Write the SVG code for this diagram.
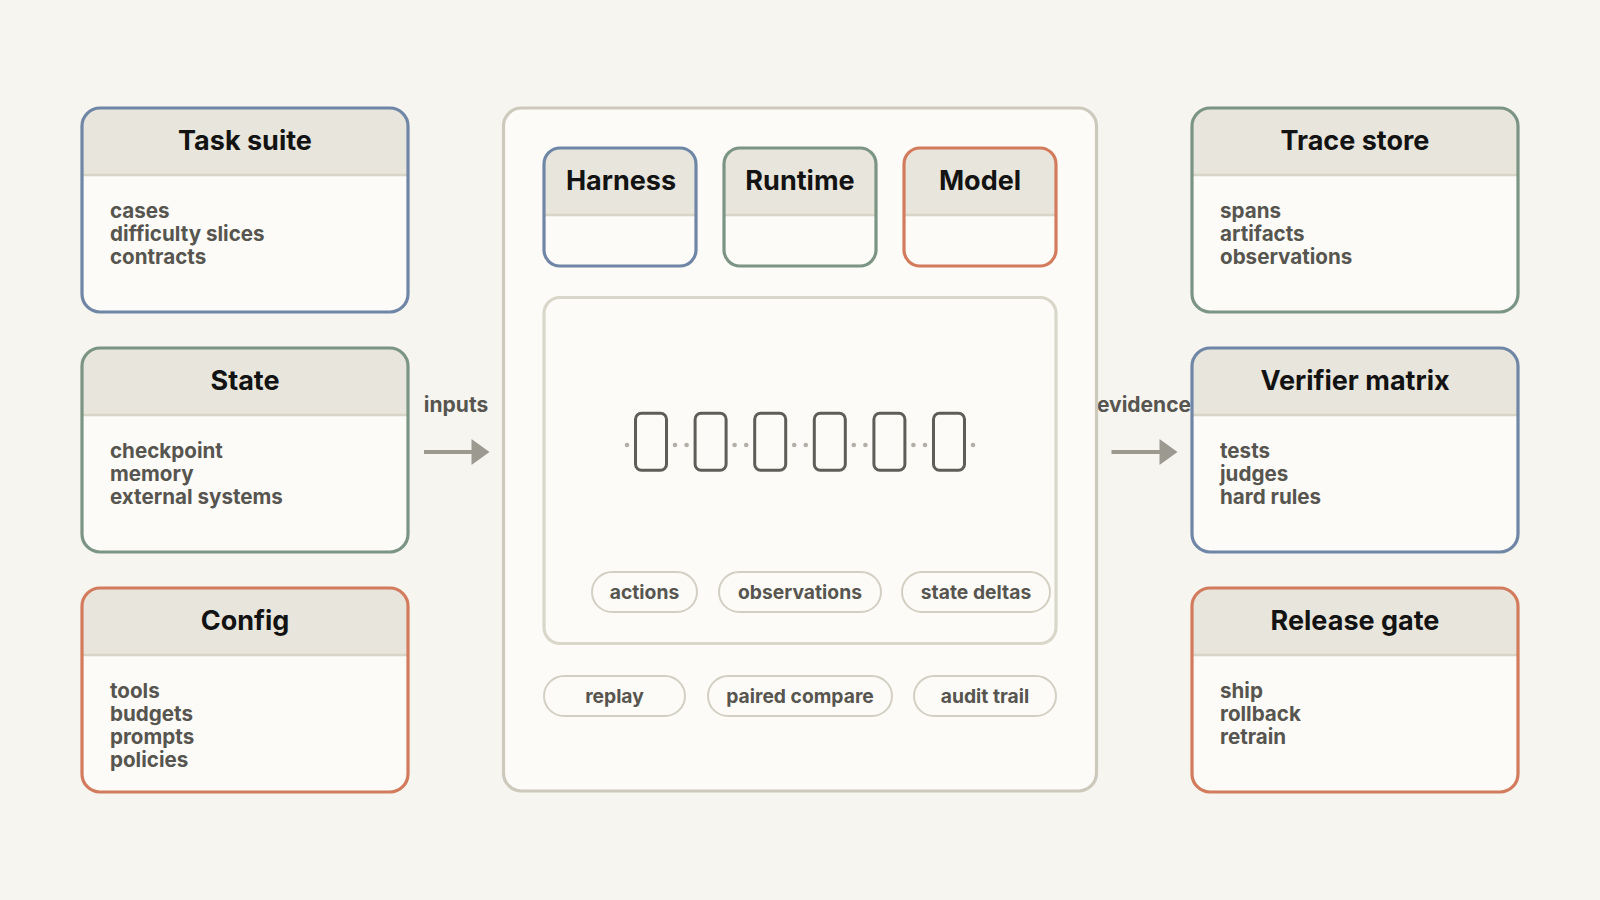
<svg xmlns="http://www.w3.org/2000/svg" width="1600" height="900" viewBox="0 0 1600 900">
<style>
.bg{fill:#f6f5f0}
.fillbox{fill:#fcfbf7}
.hdr{fill:#e8e6dc}
.sep{stroke:#d8d4c6;stroke-width:2.5}
.outline{fill:none;stroke-width:3.2}
.blue{stroke:#6f86a6}
.green{stroke:#7b9484}
.orange{stroke:#d27b5d}
.title{font-family:Inter,"Liberation Sans",sans-serif;font-weight:700;font-size:27px;fill:#131313;text-anchor:middle}
.body{font-family:Inter,"Liberation Sans",sans-serif;font-weight:700;font-size:20.6px;fill:#57554f}
.pill{fill:#fcfbf7;stroke:#d3cfc3;stroke-width:2}
.pilltxt{font-family:Inter,"Liberation Sans",sans-serif;font-weight:700;font-size:19.3px;fill:#57554f;text-anchor:middle}
.lbl{font-family:Inter,"Liberation Sans",sans-serif;font-weight:700;font-size:21px;fill:#57554f;text-anchor:middle}
.arrow{stroke:#9c9990;stroke-width:4}
.arrowhead{fill:#9c9990}
.tok{fill:none;stroke:#5f5d58;stroke-width:3}
.dot{fill:#b3afa6}
</style>
<rect class="bg" x="0" y="0" width="1600" height="900"/>

<g id="connectors">
  <text class="lbl" x="456" y="411.5">inputs</text>
  <line class="arrow" x1="424" y1="452" x2="473" y2="452"/>
  <polygon class="arrowhead" points="471.5,439 489.5,452 471.5,465"/>
  <text class="lbl" x="1144" y="411.5">evidence</text>
  <line class="arrow" x1="1111.5" y1="452" x2="1161" y2="452"/>
  <polygon class="arrowhead" points="1159.5,439 1177.5,452 1159.5,465"/>
</g>

<g id="task-suite">
  <rect class="fillbox" x="82" y="108" width="326" height="204" rx="18"/>
  <path class="hdr" d="M82,175 V126 A18,18 0 0 1 100,108 H390 A18,18 0 0 1 408,126 V175 Z"/>
  <line class="sep" x1="82" y1="175" x2="408" y2="175"/>
  <rect class="outline blue" x="82" y="108" width="326" height="204" rx="18"/>
  <text class="title" x="245" y="149.5">Task suite</text>
  <text class="body" x="110" y="218">cases</text>
  <text class="body" x="110" y="241">difficulty slices</text>
  <text class="body" x="110" y="264">contracts</text>
</g>

<g id="state">
  <rect class="fillbox" x="82" y="348" width="326" height="204" rx="18"/>
  <path class="hdr" d="M82,415 V366 A18,18 0 0 1 100,348 H390 A18,18 0 0 1 408,366 V415 Z"/>
  <line class="sep" x1="82" y1="415" x2="408" y2="415"/>
  <rect class="outline green" x="82" y="348" width="326" height="204" rx="18"/>
  <text class="title" x="245" y="389.5">State</text>
  <text class="body" x="110" y="458">checkpoint</text>
  <text class="body" x="110" y="481">memory</text>
  <text class="body" x="110" y="504">external systems</text>
</g>

<g id="config">
  <rect class="fillbox" x="82" y="588" width="326" height="204" rx="18"/>
  <path class="hdr" d="M82,655 V606 A18,18 0 0 1 100,588 H390 A18,18 0 0 1 408,606 V655 Z"/>
  <line class="sep" x1="82" y1="655" x2="408" y2="655"/>
  <rect class="outline orange" x="82" y="588" width="326" height="204" rx="18"/>
  <text class="title" x="245" y="629.5">Config</text>
  <text class="body" x="110" y="698">tools</text>
  <text class="body" x="110" y="721">budgets</text>
  <text class="body" x="110" y="744">prompts</text>
  <text class="body" x="110" y="767">policies</text>
</g>

<g id="trace-store">
  <rect class="fillbox" x="1192" y="108" width="326" height="204" rx="18"/>
  <path class="hdr" d="M1192,175 V126 A18,18 0 0 1 1210,108 H1500 A18,18 0 0 1 1518,126 V175 Z"/>
  <line class="sep" x1="1192" y1="175" x2="1518" y2="175"/>
  <rect class="outline green" x="1192" y="108" width="326" height="204" rx="18"/>
  <text class="title" x="1355" y="149.5">Trace store</text>
  <text class="body" x="1220" y="218">spans</text>
  <text class="body" x="1220" y="241">artifacts</text>
  <text class="body" x="1220" y="264">observations</text>
</g>

<g id="verifier-matrix">
  <rect class="fillbox" x="1192" y="348" width="326" height="204" rx="18"/>
  <path class="hdr" d="M1192,415 V366 A18,18 0 0 1 1210,348 H1500 A18,18 0 0 1 1518,366 V415 Z"/>
  <line class="sep" x1="1192" y1="415" x2="1518" y2="415"/>
  <rect class="outline blue" x="1192" y="348" width="326" height="204" rx="18"/>
  <text class="title" x="1355" y="389.5">Verifier matrix</text>
  <text class="body" x="1220" y="458">tests</text>
  <text class="body" x="1220" y="481">judges</text>
  <text class="body" x="1220" y="504">hard rules</text>
</g>

<g id="release-gate">
  <rect class="fillbox" x="1192" y="588" width="326" height="204" rx="18"/>
  <path class="hdr" d="M1192,655 V606 A18,18 0 0 1 1210,588 H1500 A18,18 0 0 1 1518,606 V655 Z"/>
  <line class="sep" x1="1192" y1="655" x2="1518" y2="655"/>
  <rect class="outline orange" x="1192" y="588" width="326" height="204" rx="18"/>
  <text class="title" x="1355" y="629.5">Release gate</text>
  <text class="body" x="1220" y="698">ship</text>
  <text class="body" x="1220" y="721">rollback</text>
  <text class="body" x="1220" y="744">retrain</text>
</g>

<g id="eval-core">
  <rect x="503.5" y="108" width="593" height="683" rx="18" fill="#fcfbf7" stroke="#cdc9bc" stroke-width="3.2"/>
</g>

<g id="harness">
  <rect class="fillbox" x="544" y="148" width="152" height="118" rx="16"/>
  <path class="hdr" d="M544,215 V164 A16,16 0 0 1 560,148 H680 A16,16 0 0 1 696,164 V215 Z"/>
  <line class="sep" x1="544" y1="215" x2="696" y2="215"/>
  <rect class="outline blue" x="544" y="148" width="152" height="118" rx="16"/>
  <text class="title" x="621" y="190">Harness</text>
</g>

<g id="runtime">
  <rect class="fillbox" x="724" y="148" width="152" height="118" rx="16"/>
  <path class="hdr" d="M724,215 V164 A16,16 0 0 1 740,148 H860 A16,16 0 0 1 876,164 V215 Z"/>
  <line class="sep" x1="724" y1="215" x2="876" y2="215"/>
  <rect class="outline green" x="724" y="148" width="152" height="118" rx="16"/>
  <text class="title" x="800" y="190">Runtime</text>
</g>

<g id="model">
  <rect class="fillbox" x="904" y="148" width="152" height="118" rx="16"/>
  <path class="hdr" d="M904,215 V164 A16,16 0 0 1 920,148 H1040 A16,16 0 0 1 1056,164 V215 Z"/>
  <line class="sep" x1="904" y1="215" x2="1056" y2="215"/>
  <rect class="outline orange" x="904" y="148" width="152" height="118" rx="16"/>
  <text class="title" x="980" y="190">Model</text>
</g>

<g id="trajectory-panel">
  <rect x="544" y="297.5" width="512" height="346" rx="16" fill="#fcfbf7" stroke="#d9d6ca" stroke-width="3.2"/>
  <g id="trajectory-steps">
    <circle class="dot" cx="627" cy="445" r="2.3"/>
    <circle class="dot" cx="675" cy="445" r="2.3"/>
    <circle class="dot" cx="686.6" cy="445" r="2.3"/>
    <circle class="dot" cx="734.6" cy="445" r="2.3"/>
    <circle class="dot" cx="746.2" cy="445" r="2.3"/>
    <circle class="dot" cx="794.2" cy="445" r="2.3"/>
    <circle class="dot" cx="805.8" cy="445" r="2.3"/>
    <circle class="dot" cx="853.8" cy="445" r="2.3"/>
    <circle class="dot" cx="865.4" cy="445" r="2.3"/>
    <circle class="dot" cx="913.4" cy="445" r="2.3"/>
    <circle class="dot" cx="925" cy="445" r="2.3"/>
    <circle class="dot" cx="973" cy="445" r="2.3"/>
    <rect class="tok" x="635.5" y="413.2" width="31" height="57" rx="6"/>
    <rect class="tok" x="695.1" y="413.2" width="31" height="57" rx="6"/>
    <rect class="tok" x="754.7" y="413.2" width="31" height="57" rx="6"/>
    <rect class="tok" x="814.3" y="413.2" width="31" height="57" rx="6"/>
    <rect class="tok" x="873.9" y="413.2" width="31" height="57" rx="6"/>
    <rect class="tok" x="933.5" y="413.2" width="31" height="57" rx="6"/>
  </g>
</g>

<g id="pill-actions">
  <rect class="pill" x="592" y="572" width="105" height="40" rx="20"/>
  <text class="pilltxt" x="644.5" y="599">actions</text>
</g>
<g id="pill-observations">
  <rect class="pill" x="719" y="572" width="162" height="40" rx="20"/>
  <text class="pilltxt" x="800" y="599">observations</text>
</g>
<g id="pill-state-deltas">
  <rect class="pill" x="902" y="572" width="148" height="40" rx="20"/>
  <text class="pilltxt" x="976" y="599">state deltas</text>
</g>
<g id="pill-replay">
  <rect class="pill" x="544" y="676" width="141" height="40" rx="20"/>
  <text class="pilltxt" x="614.5" y="703">replay</text>
</g>
<g id="pill-paired-compare">
  <rect class="pill" x="708" y="676" width="184" height="40" rx="20"/>
  <text class="pilltxt" x="800" y="703">paired compare</text>
</g>
<g id="pill-audit-trail">
  <rect class="pill" x="914" y="676" width="142" height="40" rx="20"/>
  <text class="pilltxt" x="985" y="703">audit trail</text>
</g>
</svg>
